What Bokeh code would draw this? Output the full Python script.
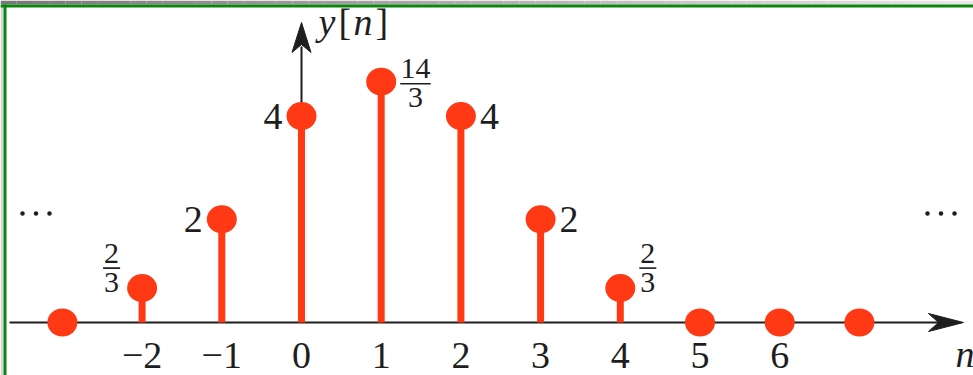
from fractions import Fraction

from bokeh.core.properties import value
from bokeh.embed import file_html
from bokeh.models import Range1d
from bokeh.plotting import figure
from bokeh.resources import INLINE

# Discrete-time signal y[n]
n_values = [-3, -2, -1, 0, 1, 2, 3, 4, 5, 6, 7]
y_labels = ["0", "2/3", "2", "4", "14/3", "4", "2", "2/3", "0", "0", "0"]
tick_values = [-2, -1, 0, 1, 2, 3, 4, 5, 6]
tick_labels = ["\u22122", "\u22121", "0", "1", "2", "3", "4", "5", "6"]

y_fracs = [Fraction(s) for s in y_labels]
y_values = [float(f) for f in y_fracs]

# Canvas and scale: pixel position of the origin and pixels per unit
W, H = 973, 375
X0, DX = 301.0, 79.7
Y0, DY = 322.0, 51.6

RED = "#ff3914"
INK = "#1e1e1e"
SERIF = value("Liberation Serif")
DIGITS, SMALL, NAME = 38, 30, 38
# the text glyph sits its baseline lower than requested; lift by this share of the size
LIFT = 0.365


def xd(px):
    return (px - X0) / DX


def yd(py):
    return (Y0 - py) / DY


def base(size):
    """Data-unit shift that puts an alphabetic baseline where it is asked for."""
    return LIFT * size / DY


p = figure(
    width=W, height=H,
    x_range=Range1d(xd(0), xd(W)), y_range=Range1d(yd(H), yd(0)),
    output_backend="svg", toolbar_location=None, min_border=0,
    x_axis_location=None, y_axis_location=None,
    outline_line_color=None, background_fill_color="white",
    border_fill_color="white",
)
p.grid.grid_line_color = None

# window frame: grey title strip, green border lines
steps = 60
for k in range(steps):
    g = int(0x78 + (0xe8 - 0x78) * k / (steps - 1))
    p.quad(left=xd(W * k / steps), right=xd(W * (k + 1) / steps),
           top=yd(0), bottom=yd(4), fill_color="#%02x%02x%02x" % (g, g, g),
           line_color=None)
p.quad(left=xd(0), right=xd(3), top=yd(4), bottom=yd(H),
       fill_color="#d4d4d4", line_color=None)
p.quad(left=xd(0), right=xd(W), top=yd(4), bottom=yd(7),
       fill_color="#0b850b", line_color=None)
p.quad(left=xd(3), right=xd(6), top=yd(4), bottom=yd(H),
       fill_color="#0b850b", line_color=None)

# horizontal axis with arrow head
p.segment(x0=xd(9), y0=0, x1=xd(940), y1=0, line_color=INK, line_width=2)
p.patch(x=[xd(963), xd(928), xd(938), xd(928)],
        y=[0, yd(Y0 - 9), 0, yd(Y0 + 9)],
        fill_color=INK, line_color=INK, line_width=1)

# vertical axis with arrow head
p.segment(x0=0, y0=0, x1=0, y1=yd(46), line_color=INK, line_width=2)
p.patch(x=[0, xd(X0 - 9.5), 0, xd(X0 + 9.5)],
        y=[yd(22), yd(52), yd(44), yd(52)],
        fill_color=INK, line_color=INK, line_width=1)

# stems and sample markers
stem_n = [n for n, v in zip(n_values, y_values) if v != 0]
stem_v = [v for v in y_values if v != 0]
p.segment(x0=stem_n, y0=[0] * len(stem_n), x1=stem_n, y1=stem_v,
          line_color=RED, line_width=7, line_cap="butt")
p.ellipse(x=n_values, y=y_values, width=30, height=28,
          width_units="screen", height_units="screen",
          fill_color=RED, line_color=None)

# value labels
for n, v, f in zip(n_values, y_values, y_fracs):
    if v == 0:
        continue
    right = n > 0
    if f.denominator == 1:
        p.text(x=[n + (19 if right else -19) / DX],
               y=[v - 14 / DY + base(DIGITS)],
               text=[str(f.numerator)], text_font=SERIF,
               text_font_size=f"{DIGITS}px", text_color=INK,
               text_align="left" if right else "right",
               text_baseline="alphabetic")
    else:
        num, den = str(f.numerator), str(f.denominator)
        bar_w = 13.5 * max(len(num), len(den)) + 3.5
        if right:
            left_px = 19
        else:
            left_px = -22 - bar_w
        cx = n + (left_px + bar_w / 2) / DX
        # fractions next to short stems are lifted above the marker
        bar_y = v + (20 if v < 1 else -2) / DY
        p.segment(x0=[n + left_px / DX], y0=[bar_y],
                  x1=[n + (left_px + bar_w) / DX], y1=[bar_y],
                  line_color=INK, line_width=1.6)
        p.text(x=[cx], y=[bar_y + 4 / DY + base(SMALL)], text=[num],
               text_font=SERIF, text_font_size=f"{SMALL}px", text_color=INK,
               text_align="center", text_baseline="alphabetic")
        p.text(x=[cx], y=[bar_y - 25 / DY + base(SMALL)], text=[den],
               text_font=SERIF, text_font_size=f"{SMALL}px", text_color=INK,
               text_align="center", text_baseline="alphabetic")

# tick labels on the n axis
p.text(x=tick_values, y=[yd(369) + base(DIGITS)] * len(tick_values),
       text=tick_labels, text_font=SERIF, text_font_size=f"{DIGITS}px",
       text_color=INK, text_align="center", text_baseline="alphabetic")

# axis names
name_parts = [("y", "italic", 17), ("[", "normal", 37), ("n", "italic", 52),
              ("]", "normal", 74)]
for s, style, off in name_parts:
    p.text(x=[off / DX], y=[yd(35) + base(NAME)], text=[s], text_font=SERIF,
           text_font_style=style, text_font_size=f"{NAME}px", text_color=INK,
           text_align="left", text_baseline="alphabetic")
p.text(x=[xd(955)], y=[yd(367) + base(NAME)], text=["n"], text_font=SERIF,
       text_font_style="italic", text_font_size=f"{NAME}px", text_color=INK,
       text_align="left", text_baseline="alphabetic")

# continuation dots on both sides
dots_x = [xd(22 + 13.5 * k) for k in range(3)] + \
         [xd(927 + 13.5 * k) for k in range(3)]
p.scatter(x=dots_x, y=[yd(213)] * 6, size=4.5, marker="circle",
          fill_color=INK, line_color=None)

open("out.html", "w").write(file_html(p, INLINE))
